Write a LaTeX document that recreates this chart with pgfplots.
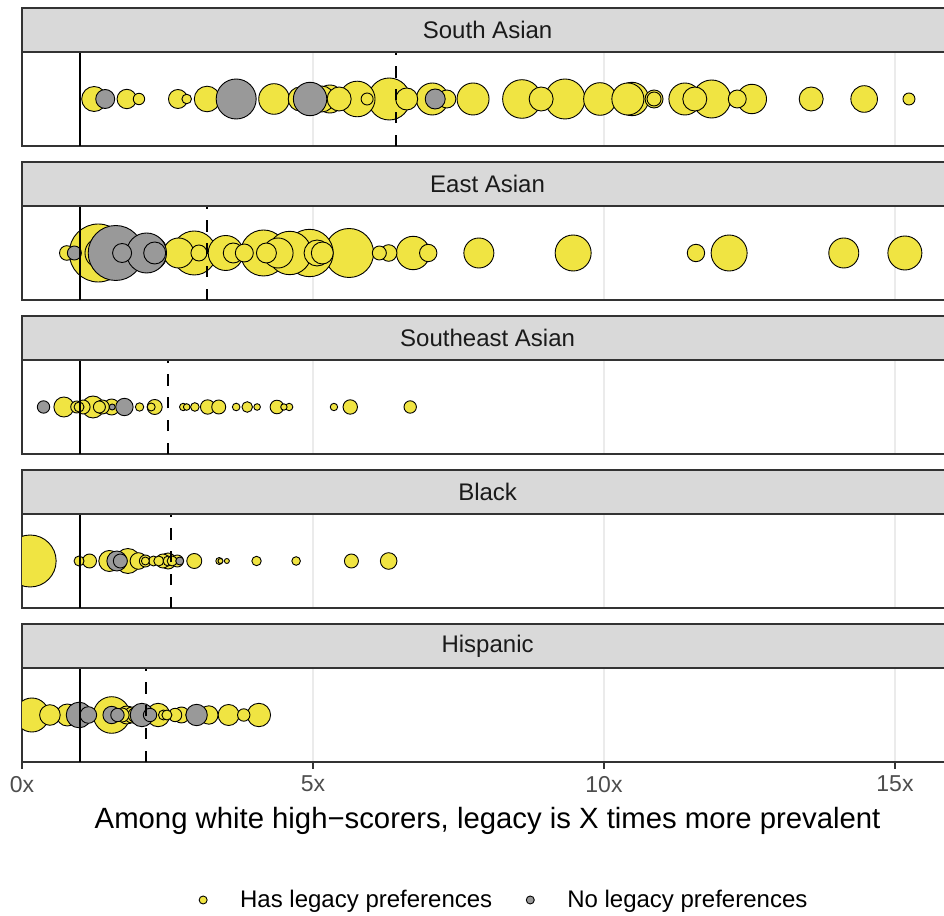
\documentclass[border=0pt]{standalone}
\usepackage{pgfplots}
\pgfplotsset{compat=1.18}
\usepackage{pgfplotstable}
\usepackage{fontspec}
\setmainfont{Liberation Sans}
\definecolor{yel}{HTML}{F0E442}
\definecolor{gry}{HTML}{999999}
\definecolor{bord}{HTML}{333333}
\definecolor{stripc}{HTML}{D9D9D9}
\definecolor{gridc}{HTML}{EBEBEB}
\definecolor{tickc}{HTML}{4D4D4D}
\definecolor{striptext}{HTML}{1A1A1A}

% r = bubble radius in px of the reference
\pgfplotstableread[row sep=\\]{
x r \\
6.31 21 \\ 9.33 20 \\ 8.59 19.3 \\ 11.85 19 \\ 5.76 17.8 \\ 10.48 16.7 \\ 9.93 16.3 \\
7.05 16 \\ 7.75 16 \\ 10.41 16 \\ 11.39 16 \\ 4.33 15.3 \\ 12.54 14.7 \\ 5.29 14 \\
14.47 13.3 \\ 5.15 13 \\ 3.18 12.8 \\ 1.24 12.5 \\ 4.78 12 \\ 5.45 12 \\ 8.92 12 \\
11.56 12 \\ 13.56 12 \\ 6.61 11 \\ 1.80 9.7 \\ 2.68 9.5 \\ 7.30 9 \\ 10.86 9 \\
12.29 9 \\ 10.86 7 \\ 5.93 6 \\ 15.24 6 \\ 2.01 5.7 \\ 2.83 4.8 \\
}\saY
\pgfplotstableread[row sep=\\]{
x r \\
3.68 20 \\ 4.95 16.7 \\ 7.10 10 \\ 1.43 9.5 \\
}\saG

\pgfplotstableread[row sep=\\]{
x r \\
1.31 29 \\ 5.62 24.5 \\ 4.94 23.7 \\ 4.15 23 \\ 2.96 22 \\ 4.60 21.7 \\ 2.19 18 \\
9.47 18 \\ 12.15 18 \\ 3.50 17.5 \\ 15.17 17 \\ 6.72 16.7 \\ 1.34 15 \\ 2.69 15 \\
4.40 15 \\ 7.85 15 \\ 14.12 15 \\ 5.07 13 \\ 5.16 11 \\ 3.63 10 \\ 4.20 10 \\
3.82 9 \\ 6.98 8.7 \\ 11.58 8.7 \\ 6.30 8.3 \\ 3.04 8 \\ 0.77 7.3 \\ 6.14 7 \\
}\eaY
\pgfplotstableread[row sep=\\]{
x r \\
1.61 27.5 \\ 2.14 20 \\ 2.28 11 \\ 1.72 9.5 \\ 0.90 7 \\
}\eaG

\pgfplotstableread[row sep=\\]{
x r \\
1.22 11 \\ 0.72 10 \\ 1.54 8 \\ 2.28 7.5 \\ 3.19 7.2 \\ 5.64 7.2 \\ 1.38 7 \\ 1.05 7 \\
3.38 7 \\ 4.38 6.8 \\ 6.67 6.2 \\ 0.94 6 \\ 1.33 6 \\ 3.87 5.3 \\ 0.98 5 \\
2.97 4.3 \\ 2.02 4.2 \\ 2.22 4 \\ 3.68 3.8 \\ 2.77 3.7 \\ 4.59 3.7 \\ 5.36 3.7 \\
2.83 3.3 \\ 4.04 3.3 \\ 4.50 3.2 \\
}\seY
\pgfplotstableread[row sep=\\]{
x r \\
1.76 8.7 \\ 0.37 6.2 \\ 1.55 3 \\
}\seG

\pgfplotstableread[row sep=\\]{
x r \\
0.14 26 \\ 1.82 12.5 \\ 1.50 10.5 \\ 2.00 8.3 \\ 6.30 8.3 \\ 2.51 8 \\ 2.96 7.5 \\
1.16 7 \\ 2.42 7 \\ 5.66 7 \\ 2.12 6 \\ 2.67 6 \\ 0.98 5 \\ 2.26 5 \\ 2.35 5 \\
2.51 5 \\ 2.58 5 \\ 4.03 4.7 \\ 4.71 4.3 \\ 2.12 4 \\ 3.39 3.5 \\ 3.41 2.5 \\ 3.52 2.5 \\
}\blY
\pgfplotstableread[row sep=\\]{
x r \\
1.63 10 \\ 1.69 7 \\ 2.71 4 \\
}\blG

\pgfplotstableread[row sep=\\]{
x r \\
1.54 18.3 \\ 0.17 17 \\ 2.34 11.7 \\ 4.07 11.7 \\ 0.78 11 \\ 3.55 10.5 \\ 0.48 10.3 \\
1.02 10 \\ 3.21 9.2 \\ 1.80 9 \\ 1.89 8 \\ 2.74 8 \\ 1.95 7.5 \\ 1.72 7 \\
2.63 6.7 \\ 3.81 6.2 \\ 2.43 5 \\ 2.49 5 \\ 2.90 5 \\
}\hiY
\pgfplotstableread[row sep=\\]{
x r \\
0.98 12.8 \\ 2.06 11.7 \\ 3.00 10.7 \\ 1.54 8.7 \\ 1.14 8.3 \\ 1.64 6.7 \\ 2.20 6.7 \\
}\hiG

\pgfplotsset{
  panel/.style={
    scale only axis, width=465.6pt, height=47pt,
    xmin=0, xmax=16, ymin=-1, ymax=1,
    ytick=\empty, xtick={0,5,10,15}, xticklabels={},
    xmajorgrids, grid style={gridc, line width=1pt},
    axis line style={bord, line width=0.85pt},
    xtick style={draw=none},
    clip marker paths=true,
    anchor=south west,
  },
  bub/.style={
    scatter, only marks, mark=*, forget plot,
    point meta=\thisrow{r},
    scatter/use mapped color={draw=black, fill=#1},
    visualization depends on={\thisrow{r}*0.5 \as \rad},
    scatter/@pre marker code/.append style={/tikz/mark size=\rad},
    mark options={line width=0.45pt},
  },
  vl/.style={black, line width=1.2pt, forget plot},
  vd/.style={black, line width=1.2pt, dash pattern=on 5.7pt off 5.7pt, forget plot},
}
\newcommand{\strip}[2]{%
  \draw[fill=stripc, draw=bord, line width=0.85pt] (#1.north west) rectangle ([yshift=22pt]#1.north east);
  \node[font=\fontsize{12}{14}\selectfont, text=striptext] at ([yshift=11pt]#1.north) {#2};
}

\begin{document}
\begin{tikzpicture}
\path[use as bounding box] (0,0) rectangle (472pt,458pt);

% South Asian
\begin{axis}[panel, name=p1, at={(11pt,385pt)}]
\addplot[bub=yel] table[x=x, y expr=0] {\saY};
\addplot[bub=gry] table[x=x, y expr=0] {\saG};
\addplot[vl] coordinates {(1,-1) (1,1)};
\addplot[vd] coordinates {(6.43,-1) (6.43,1)};
\end{axis}
\strip{p1}{South Asian}

% East Asian
\begin{axis}[panel, name=p2, at={(11pt,308pt)}]
\addplot[bub=yel] table[x=x, y expr=0] {\eaY};
\addplot[bub=gry] table[x=x, y expr=0] {\eaG};
\addplot[vl] coordinates {(1,-1) (1,1)};
\addplot[vd] coordinates {(3.18,-1) (3.18,1)};
\end{axis}
\strip{p2}{East Asian}

% Southeast Asian
\begin{axis}[panel, name=p3, at={(11pt,231pt)}]
\addplot[bub=yel] table[x=x, y expr=0] {\seY};
\addplot[bub=gry] table[x=x, y expr=0] {\seG};
\addplot[vl] coordinates {(1,-1) (1,1)};
\addplot[vd] coordinates {(2.51,-1) (2.51,1)};
\end{axis}
\strip{p3}{Southeast Asian}

% Black
\begin{axis}[panel, name=p4, at={(11pt,154pt)}]
\addplot[bub=yel] table[x=x, y expr=0] {\blY};
\addplot[bub=gry] table[x=x, y expr=0] {\blG};
\addplot[vl] coordinates {(1,-1) (1,1)};
\addplot[vd] coordinates {(2.56,-1) (2.56,1)};
\end{axis}
\strip{p4}{Black}

% Hispanic
\begin{axis}[panel, name=p5, at={(11pt,77pt)},
  xticklabels={0x,5x,10x,15x},
  xtick style={draw=bord, line width=0.85pt},
  tick align=outside, major tick length=3.5pt, xtick pos=bottom,
  xticklabel style={font=\fontsize{11.5}{13}\selectfont, text=tickc},
  xlabel={Among white high−scorers, legacy is X times more prevalent},
  xlabel style={at={(axis description cs:0.5,0)}, anchor=center, yshift=-29.5pt, font=\fontsize{14.65}{17}\selectfont},
  legend style={at={(axis description cs:0.519,-1.468)}, anchor=center, draw=none, fill=none,
    legend columns=2, font=\fontsize{12}{14}\selectfont,
    /tikz/every even column/.append style={column sep=15pt},
    /tikz/every odd column/.append style={column sep=14.5pt}},
]
\addplot[bub=yel] table[x=x, y expr=0] {\hiY};
\addplot[bub=gry] table[x=x, y expr=0] {\hiG};
\addplot[vl] coordinates {(1,-1) (1,1)};
\addplot[vd] coordinates {(2.13,-1) (2.13,1)};
\addlegendimage{only marks, mark=*, mark size=2pt, mark options={fill=yel, draw=black, line width=0.45pt}}
\addlegendentry{Has legacy preferences}
\addlegendimage{only marks, mark=*, mark size=2pt, mark options={fill=gry, draw=black, line width=0.45pt}}
\addlegendentry{No legacy preferences}
\end{axis}
\strip{p5}{Hispanic}
\end{tikzpicture}
\end{document}
